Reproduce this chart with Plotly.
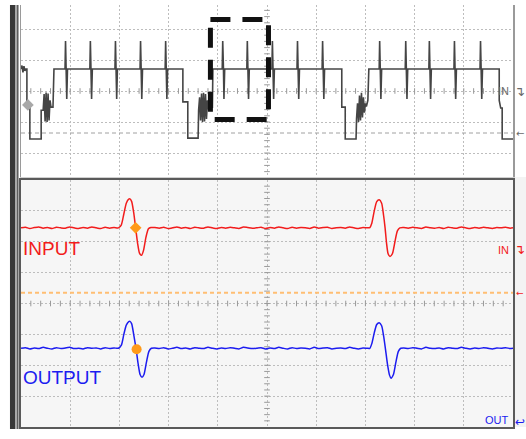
import numpy as np
import plotly.graph_objects as go

# ---------------- data (x in horizontal divisions 0..10, y in vertical divisions) -------------
# Upper (zoomed-out) trace: low gaps and spikes on the high level
TOP_HIGH, SPIKE_TOP, SPIKE_BOT = 0.71, 1.61, -0.26
spike_x = [0.915, 1.42, 1.93, 2.44, 2.95, 4.11, 4.61, 5.12, 5.63, 6.14, 7.30, 7.83, 8.31, 8.82, 9.35]

gap1_x = [0.00, 0.02, 0.04, 0.06, 0.08, 0.10, 0.12, 0.12, 0.18, 0.18, 0.41, 0.41, 0.45, 0.47, 0.49,
          0.51, 0.53, 0.55, 0.57, 0.59, 0.61, 0.65, 0.67]
gap1_y = [0.71, 0.82, 0.60, 0.80, 0.65, 0.71, 0.71, -0.40, -0.40, -1.55, -1.55, -0.62, -0.62, -0.10,
          -0.98, -0.05, -1.00, -0.08, -0.95, -0.30, -0.52, -0.52, 0.71]
gap2_x = [3.29, 3.29, 3.39, 3.39, 3.60, 3.61, 3.63, 3.65, 3.67, 3.69, 3.71, 3.73, 3.75, 3.77, 3.79,
          3.81, 3.84, 3.89, 3.90]
gap2_y = [0.71, -0.35, -0.35, -1.52, -1.52, -0.62, -0.20, -0.95, -0.08, -1.00, -0.06, -0.98, -0.10,
          -0.90, -0.30, -0.55, -0.52, -0.52, 0.71]
gap3_x = [6.52, 6.52, 6.59, 6.59, 6.81, 6.82, 6.84, 6.86, 6.88, 6.90, 6.92, 6.94, 6.96, 6.98, 7.00,
          7.02, 7.05, 7.07]
gap3_y = [0.71, -0.52, -0.52, -1.55, -1.55, -0.90, -0.40, -1.00, -0.15, -0.95, -0.06, -0.85, -0.20,
          -0.70, -0.40, -0.50, -0.30, 0.71]
gap4_x = [9.72, 9.72, 9.75, 9.78, 9.78, 10.0]
gap4_y = [0.71, -0.30, -0.55, -0.55, -1.55, -1.55]
top_marker = (0.14, -0.45)
top_ref_level = -1.355

# Lower panel: INPUT (red) and OUTPUT (blue)
seg_a_x = [0.00, 0.09, 0.18, 0.27, 0.36, 0.45, 0.54, 0.63, 0.72, 0.81, 0.90, 0.99, 1.08, 1.17, 1.26,
           1.35, 1.44, 1.53, 1.62, 1.71, 1.80, 1.89, 1.98]
seg_b_x = [2.72, 2.81, 2.90, 2.99, 3.08, 3.17, 3.26, 3.35, 3.44, 3.53, 3.62, 3.71, 3.80, 3.89, 3.98,
           4.07, 4.16, 4.25, 4.34, 4.43, 4.52, 4.61, 4.70, 4.79, 4.88, 4.97, 5.06, 5.15, 5.24, 5.33,
           5.42, 5.51, 5.60, 5.69, 5.78, 5.87, 5.96, 6.05, 6.14, 6.23, 6.32, 6.41, 6.50, 6.59, 6.68,
           6.77, 6.86, 6.95, 7.04]
seg_c_x = [7.78, 7.87, 7.96, 8.05, 8.14, 8.23, 8.32, 8.41, 8.50, 8.59, 8.68, 8.77, 8.86, 8.95, 9.04,
           9.13, 9.22, 9.31, 9.40, 9.49, 9.58, 9.67, 9.76, 9.85, 9.94, 10.0]

in_a_y = [2.45, 2.47, 2.43, 2.46, 2.48, 2.44, 2.46, 2.43, 2.47, 2.45, 2.44, 2.48, 2.45, 2.43, 2.46,
          2.44, 2.48, 2.45, 2.43, 2.47, 2.44, 2.46, 2.45]
in_p1_x = [2.04, 2.09, 2.14, 2.19, 2.215, 2.25, 2.29, 2.33, 2.37, 2.41, 2.45, 2.49, 2.54, 2.59, 2.64]
in_p1_y = [2.55, 2.90, 3.25, 3.38, 3.39, 3.30, 2.95, 2.45, 1.95, 1.62, 1.56, 1.72, 2.15, 2.42, 2.46]
in_b_y = [2.46, 2.44, 2.47, 2.43, 2.45, 2.48, 2.44, 2.46, 2.43, 2.47, 2.45, 2.44, 2.48, 2.45, 2.43,
          2.46, 2.44, 2.47, 2.45, 2.43, 2.48, 2.46, 2.44, 2.45, 2.47, 2.43, 2.46, 2.44, 2.48, 2.45,
          2.43, 2.47, 2.44, 2.46, 2.45, 2.43, 2.48, 2.44, 2.46, 2.47, 2.43, 2.45, 2.46, 2.44, 2.48,
          2.45, 2.43, 2.46, 2.45]
in_p2_x = [7.09, 7.13, 7.18, 7.23, 7.28, 7.33, 7.37, 7.40, 7.43, 7.46, 7.50, 7.55, 7.60, 7.65, 7.70]
in_p2_y = [2.46, 2.60, 3.00, 3.30, 3.36, 3.25, 2.85, 2.45, 1.95, 1.62, 1.52, 1.62, 2.00, 2.35, 2.45]
in_c_y = [2.46, 2.44, 2.47, 2.45, 2.43, 2.48, 2.45, 2.44, 2.46, 2.43, 2.47, 2.45, 2.44, 2.48, 2.45,
          2.43, 2.46, 2.44, 2.47, 2.45, 2.43, 2.46, 2.45, 2.47, 2.44, 2.45]

out_a_y = [-1.45, -1.43, -1.47, -1.44, -1.46, -1.42, -1.45, -1.47, -1.43, -1.46, -1.44, -1.42, -1.46,
           -1.45, -1.47, -1.43, -1.45, -1.44, -1.47, -1.43, -1.46, -1.44, -1.45]
out_p1_x = [2.04, 2.09, 2.14, 2.19, 2.215, 2.25, 2.29, 2.34, 2.38, 2.42, 2.46, 2.50, 2.55, 2.60, 2.65]
out_p1_y = [-1.35, -1.00, -0.70, -0.59, -0.58, -0.66, -1.00, -1.48, -1.95, -2.30, -2.39, -2.30, -1.90,
            -1.55, -1.45]
out_b_y = [-1.44, -1.46, -1.43, -1.47, -1.45, -1.42, -1.46, -1.44, -1.47, -1.43, -1.45, -1.46, -1.42,
           -1.45, -1.47, -1.44, -1.46, -1.43, -1.45, -1.47, -1.42, -1.44, -1.46, -1.45, -1.43, -1.47,
           -1.44, -1.46, -1.42, -1.45, -1.47, -1.43, -1.46, -1.44, -1.45, -1.47, -1.42, -1.46, -1.44,
           -1.43, -1.47, -1.45, -1.44, -1.46, -1.42, -1.45, -1.47, -1.44, -1.45]
out_p2_x = [7.09, 7.13, 7.18, 7.23, 7.28, 7.33, 7.37, 7.41, 7.45, 7.49, 7.52, 7.57, 7.62, 7.67, 7.72]
out_p2_y = [-1.45, -1.30, -0.95, -0.68, -0.62, -0.72, -1.05, -1.50, -1.98, -2.32, -2.42, -2.30, -1.90,
            -1.55, -1.45]
out_c_y = [-1.44, -1.46, -1.43, -1.45, -1.47, -1.42, -1.45, -1.46, -1.44, -1.47, -1.43, -1.45, -1.46,
           -1.42, -1.45, -1.47, -1.44, -1.46, -1.43, -1.45, -1.47, -1.44, -1.45, -1.43, -1.46, -1.45]

in_marker = (2.33, 2.45)
out_marker = (2.35, -1.48)
trigger_level = 0.35
zoom_box = dict(x0=3.85, x1=5.03, y0=2.31, y1=-0.92)

# ---------------- build the upper trace polyline ----------------
pts = list(zip(gap1_x, gap1_y)) + list(zip(gap2_x, gap2_y)) + list(zip(gap3_x, gap3_y)) + list(zip(gap4_x, gap4_y))
for s in spike_x:
    pts += [(s - 0.02, TOP_HIGH), (s - 0.01, SPIKE_TOP), (s + 0.005, TOP_HIGH),
            (s + 0.015, SPIKE_BOT), (s + 0.03, TOP_HIGH)]
pts.sort(key=lambda p: p[0])
top_x = [p[0] for p in pts]
top_y = [p[1] for p in pts]

in_x = seg_a_x + in_p1_x + seg_b_x + in_p2_x + seg_c_x
in_y = in_a_y + in_p1_y + in_b_y + in_p2_y + in_c_y
out_x = seg_a_x + out_p1_x + seg_b_x + out_p2_x + seg_c_x
out_y = out_a_y + out_p1_y + out_b_y + out_p2_y + out_c_y

RED = "#f21c1c"
BLUE = "#1c1cf0"
FONT = "Liberation Sans, Arial, sans-serif"

fig = go.Figure()

# graticule ticks along the centre lines
tx = np.arange(0.2, 10.0, 0.2)
ty_top = np.arange(-2.6, 2.7, 0.2)
ty_bot = np.arange(-3.8, 3.9, 0.2)
tick_m = dict(color="#9a9a9a", size=4, line=dict(color="#9a9a9a", width=1))
fig.add_trace(go.Scatter(x=tx, y=[0] * len(tx), mode="markers", marker=dict(symbol="line-ns", **tick_m),
                         xaxis="x", yaxis="y", hoverinfo="skip"))
fig.add_trace(go.Scatter(x=[5] * len(ty_top), y=ty_top, mode="markers", marker=dict(symbol="line-ew", **tick_m),
                         xaxis="x", yaxis="y", hoverinfo="skip"))
fig.add_trace(go.Scatter(x=tx, y=[0] * len(tx), mode="markers", marker=dict(symbol="line-ns", **tick_m),
                         xaxis="x2", yaxis="y2", hoverinfo="skip"))
fig.add_trace(go.Scatter(x=[5] * len(ty_bot), y=ty_bot, mode="markers", marker=dict(symbol="line-ew", **tick_m),
                         xaxis="x2", yaxis="y2", hoverinfo="skip"))

# upper panel
fig.add_trace(go.Scatter(x=[0, 10], y=[top_ref_level] * 2, mode="lines",
                         line=dict(color="#a0a0a0", width=1, dash="4px,3px"), xaxis="x", yaxis="y"))
fig.add_trace(go.Scatter(x=top_x, y=top_y, mode="lines", line=dict(color="#454545", width=1.6),
                         xaxis="x", yaxis="y"))
fig.add_trace(go.Scatter(x=[top_marker[0]], y=[top_marker[1]], mode="markers",
                         marker=dict(symbol="diamond", size=9, color="#a8a8a8"), xaxis="x", yaxis="y"))

# lower panel
fig.add_trace(go.Scatter(x=[0, 10], y=[trigger_level] * 2, mode="lines",
                         line=dict(color="#ffbe73", width=2, dash="4px,3px"), xaxis="x2", yaxis="y2"))
fig.add_trace(go.Scatter(x=in_x, y=in_y, mode="lines", line=dict(color=RED, width=1.5, shape="spline", smoothing=0.6),
                         xaxis="x2", yaxis="y2"))
fig.add_trace(go.Scatter(x=out_x, y=out_y, mode="lines", line=dict(color=BLUE, width=1.5, shape="spline", smoothing=0.6),
                         xaxis="x2", yaxis="y2"))
fig.add_trace(go.Scatter(x=[in_marker[0]], y=[in_marker[1]], mode="markers",
                         marker=dict(symbol="diamond", size=9, color="#ff9a1a"), xaxis="x2", yaxis="y2"))
fig.add_trace(go.Scatter(x=[out_marker[0]], y=[out_marker[1]], mode="markers",
                         marker=dict(symbol="circle", size=10, color="#ff9a1a"), xaxis="x2", yaxis="y2"))

grid = dict(showgrid=True, gridcolor="#bdbdbd", griddash="2px,2px", gridwidth=1, zeroline=False,
            showticklabels=False, ticks="", tick0=0, dtick=1, fixedrange=True)

shapes = [
    # lower panel background
    dict(type="rect", xref="x2 domain", yref="y2 domain", x0=0, x1=1, y0=0, y1=1,
         fillcolor="#f6f6f6", line=dict(width=0), layer="below"),
    # right margin grey beside lower panel
    dict(type="rect", xref="paper", yref="paper", x0=1.0, x1=1.03, y0=0.0, y1=0.5924,
         fillcolor="#f3f3f3", line=dict(width=0), layer="below"),
    # left decorative strip
    dict(type="rect", xref="paper", yref="paper", x0=-0.0224, x1=-0.0122, y0=-0.005, y1=1.0,
         fillcolor="#383838", line=dict(width=0)),
    dict(type="rect", xref="paper", yref="paper", x0=-0.0122, x1=-0.0081, y0=-0.005, y1=1.0,
         fillcolor="#a8a8a8", line=dict(width=0)),
    dict(type="rect", xref="paper", yref="paper", x0=-0.0081, x1=-0.0050, y0=-0.005, y1=1.0,
         fillcolor="#5c5c5c", line=dict(width=0)),
    # dashed zoom box
    dict(type="rect", xref="x", yref="y", x0=zoom_box["x0"], x1=zoom_box["x1"],
         y0=zoom_box["y0"], y1=zoom_box["y1"], line=dict(color="#111111", width=5, dash="20px,12px")),
]

SYM_X = 1.014  # just right of the plotting area (paper fraction)
annotations = [
    dict(text="INPUT", xref="x2", yref="y2", x=0.0, y=1.77, xanchor="left", yanchor="middle",
         showarrow=False, font=dict(family=FONT, size=19, color=RED)),
    dict(text="OUTPUT", xref="x2", yref="y2", x=0.0, y=-2.39, xanchor="left", yanchor="middle",
         showarrow=False, font=dict(family=FONT, size=19, color=BLUE)),
    dict(text="IN", xref="x2", yref="y2", x=9.96, y=1.74, xanchor="right", yanchor="middle",
         showarrow=False, font=dict(family=FONT, size=11, color=RED)),
    dict(text="OUT", xref="x2", yref="y2", x=9.96, y=-3.77, xanchor="right", yanchor="middle",
         showarrow=False, font=dict(family=FONT, size=11, color=BLUE)),
    dict(text="IN", xref="x", yref="y", x=9.96, y=0.0, xanchor="right", yanchor="middle",
         showarrow=False, font=dict(family=FONT, size=11, color="#6a6a6a")),
    dict(text="↴", xref="paper", yref="y", x=SYM_X, y=0.0, xanchor="center", yanchor="middle",
         showarrow=False, font=dict(family="DejaVu Sans", size=13, color="#6a6a6a")),
    dict(text="←", xref="paper", yref="y", x=SYM_X, y=top_ref_level, xanchor="center", yanchor="middle",
         showarrow=False, font=dict(family="DejaVu Sans", size=10, color="#6a6a6a")),
    dict(text="↴", xref="paper", yref="y2", x=SYM_X, y=1.74, xanchor="center", yanchor="middle",
         showarrow=False, font=dict(family="DejaVu Sans", size=13, color=RED)),
    dict(text="←", xref="paper", yref="y2", x=SYM_X, y=trigger_level, xanchor="center", yanchor="middle",
         showarrow=False, font=dict(family="DejaVu Sans", size=9, color=RED)),
    dict(text="↩", xref="paper", yref="y2", x=SYM_X, y=-3.85, xanchor="center", yanchor="middle",
         showarrow=False, font=dict(family="DejaVu Sans", size=12, color=BLUE)),
]

fig.update_layout(
    width=526, height=439,
    margin=dict(l=21, r=13, t=5, b=12),
    paper_bgcolor="white", plot_bgcolor="white",
    showlegend=False,
    xaxis=dict(domain=[0, 1], anchor="y", range=[0, 10], showline=True, linecolor="#d0d0d0",
               linewidth=1, mirror=False, **grid),
    yaxis=dict(domain=[0.5924, 1], anchor="x", range=[-2.774, 2.774], showline=True,
               linecolor="#9a9a9a", linewidth=1.5, mirror=True, **grid),
    xaxis2=dict(domain=[0, 1], anchor="y2", range=[0, 10], showline=True, linecolor="#5a5a5a",
                linewidth=2, mirror=True, **grid),
    yaxis2=dict(domain=[0, 0.5853], anchor="x2", range=[-4, 4], showline=True, linecolor="#5a5a5a",
                linewidth=2, mirror=True, **grid),
    shapes=shapes,
    annotations=annotations,
)

fig.write_html("out.html", config={"displayModeBar": False, "staticPlot": True},
               post_script="document.body.style.margin='0px';document.body.style.overflow='hidden';")
